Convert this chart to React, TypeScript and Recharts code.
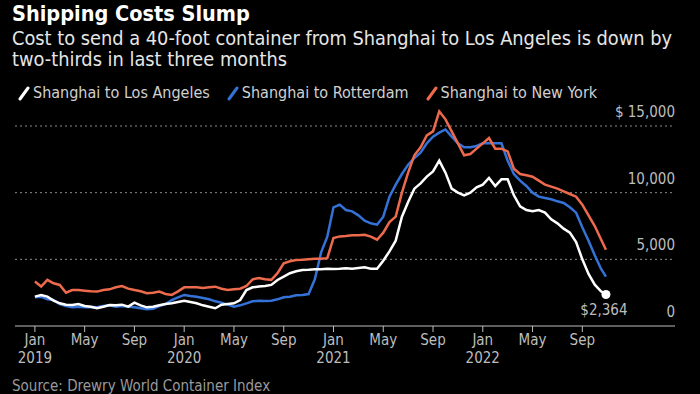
import React from 'react';
import { LineChart, Line, XAxis, YAxis, CartesianGrid } from 'recharts';

// month offsets from Jan 2019 (semi-monthly samples of the weekly index)
const months = [
  0, 0.5, 1, 1.5, 2, 2.5, 3, 3.5, 4, 4.5, 5, 5.5,
  6, 6.5, 7, 7.5, 8, 8.5, 9, 9.5, 10, 10.5, 11, 11.5,
  12, 12.5, 13, 13.5, 14, 14.5, 15, 15.5, 16, 16.5, 17, 17.5,
  18, 18.5, 19, 19.5, 20, 20.5, 21, 21.5, 22, 22.5, 23, 23.5,
  24, 24.5, 25, 25.5, 26, 26.5, 27, 27.5, 28, 28.5, 29, 29.5,
  30, 30.5, 31, 31.5, 32, 32.5, 33, 33.5, 34, 34.5, 35, 35.5,
  36, 36.5, 37, 37.5, 38, 38.5, 39, 39.5, 40, 40.5, 41, 41.5,
  42, 42.5, 43, 43.5, 44, 44.5, 45, 45.5, 45.9,
];

const losAngeles = [
  2200, 2330, 2200, 1900, 1700, 1600, 1580, 1650, 1500, 1450, 1330, 1450,
  1580, 1550, 1600, 1450, 1750, 1550, 1400, 1450, 1550, 1650, 1700, 1800,
  1900, 1800, 1700, 1550, 1450, 1330, 1600, 1650, 1700, 1950, 2700, 2900,
  2960, 3000, 3080, 3450, 3700, 3960, 4100, 4200, 4210, 4250, 4250, 4300,
  4280, 4300, 4340, 4300, 4350, 4400, 4300, 4300, 4900, 5600, 6400, 8200,
  9300, 10300, 10700, 11200, 11600, 12400, 11500, 10300, 10000, 9800, 10000, 10400,
  10600, 11100, 10500, 11000, 11000, 9800, 8970, 8700, 8600, 8700, 8500, 8000,
  7700, 7300, 7000, 6300, 5000, 3900, 3100, 2600, 2364,
];

const rotterdam = [
  2150, 2200, 2000, 1950, 1650, 1500, 1400, 1450, 1400, 1420, 1400, 1500,
  1550, 1450, 1500, 1450, 1400, 1330, 1250, 1300, 1500, 1650, 1950, 2150,
  2330, 2250, 2200, 2100, 2000, 1850, 1750, 1600, 1450, 1550, 1700, 1850,
  1900, 1880, 1900, 2000, 2150, 2200, 2300, 2330, 2400, 3500, 5500, 6700,
  8900, 9100, 8700, 8600, 8300, 7900, 7700, 7600, 8200, 9700, 10600, 11400,
  12100, 12600, 13000, 13700, 14200, 14500, 14740, 14200, 13700, 13400, 13400, 13500,
  13700, 13700, 13700, 13700, 12400, 11400, 10900, 10500, 10000, 9700, 9600, 9500,
  9350, 9230, 8900, 8500, 7400, 6400, 5300, 4300, 3700,
];

const newYork = [
  3330, 2960, 3460, 3200, 3080, 2500, 2700, 2700, 2650, 2600, 2580, 2700,
  2750, 2900, 3000, 2800, 2700, 2600, 2460, 2500, 2580, 2400, 2330, 2600,
  2900, 2910, 2900, 2850, 2900, 2950, 2800, 2700, 2750, 2800, 3000, 3500,
  3600, 3500, 3460, 3960, 4700, 4850, 4950, 4960, 5000, 5050, 5050, 5090,
  6600, 6720, 6750, 6800, 6800, 6840, 6700, 6470, 7000, 7800, 8200, 10000,
  11500, 12800, 13400, 14300, 14600, 16100, 15500, 14600, 13700, 12800, 12900, 13300,
  13700, 14100, 13300, 13300, 13100, 11800, 11400, 11300, 11200, 10900, 10600, 10450,
  10300, 10100, 9900, 9700, 9100, 8300, 7500, 6500, 5715,
];

const xTicks = [0, 4, 8, 12, 16, 20, 24, 28, 32, 36, 40, 44];
const monthNames = ['Jan', 'May', 'Sep'];
const yTicks = [0, 5000, 10000, 15000];

const series = [
  { key: 'rot', name: 'Shanghai to Rotterdam', color: '#3472d8' },
  { key: 'ny', name: 'Shanghai to New York', color: '#ee6a4c' },
  { key: 'la', name: 'Shanghai to Los Angeles', color: '#ffffff' },
];
const legendOrder = ['la', 'rot', 'ny'];

const data = months.map((t, i) => ({ t, la: losAngeles[i], rot: rotterdam[i], ny: newYork[i] }));

const FONT = "'Liberation Sans Narrow', 'DejaVu Sans Condensed', 'Liberation Sans', sans-serif";
const PLOT_RIGHT = 675;
const AXIS_GREY = '#bdbdbd';

const XTick = (props: any) => {
  const { x, y, payload } = props;
  const m = payload.value;
  const label = monthNames[(m / 4) % 3];
  const year = m % 12 === 0 ? String(2019 + m / 12) : null;
  return (
    <g>
      <text x={x} y={y + 11} textAnchor="middle" fill={AXIS_GREY} fontSize={15} fontFamily={FONT}>{label}</text>
      {year && (
        <text x={x} y={y + 29} textAnchor="middle" fill={AXIS_GREY} fontSize={15} fontFamily={FONT}>{year}</text>
      )}
    </g>
  );
};

const YTick = (props: any) => {
  const { y, payload } = props;
  const v = payload.value;
  const txt = v === 15000 ? '$ 15,000' : v.toLocaleString('en-US');
  return (
    <text x={PLOT_RIGHT} y={y - 9} textAnchor="end" fill={AXIS_GREY} fontSize={15} fontFamily={FONT}>{txt}</text>
  );
};

const EndDot = (props: any) => {
  const { cx, cy, index, value } = props;
  if (index !== data.length - 1) return <g key={index} />;
  return (
    <g key={index}>
      <circle cx={cx} cy={cy} r={4.5} fill="#ffffff" />
      <text x={cx - 2} y={cy + 21} textAnchor="middle" fill={AXIS_GREY} fontSize={15} fontFamily={FONT}>
        ${Number(value).toLocaleString('en-US')}
      </text>
    </g>
  );
};

const LegendIcon = ({ color }: { color: string }) => (
  <svg width={12} height={16} style={{ verticalAlign: 'middle', marginRight: 3 }}>
    <line x1={2} y1={14} x2={10} y2={3} stroke={color} strokeWidth={3} strokeLinecap="round" />
  </svg>
);

export default function App() {
  return (
    <div style={{ position: 'absolute', left: 0, top: 0, width: 700, height: 394, background: '#000', overflow: 'hidden', fontFamily: FONT }}>
      <div style={{ position: 'absolute', left: 12, top: 1, color: '#fff', fontSize: 21.5, fontWeight: 'bold' }}>
        Shipping Costs Slump
      </div>
      <div style={{ position: 'absolute', left: 12, top: 28, color: '#e6e6e6', fontSize: 19.8, lineHeight: '21px', width: 695, whiteSpace: 'nowrap' }}>
        Cost to send a 40-foot container from Shanghai to Los Angeles is down by<br />two-thirds in last three months
      </div>
      <div style={{ position: 'absolute', left: 18, top: 83, color: '#d0d0d0', fontSize: 16, display: 'flex', gap: 17 }}>
        {legendOrder.map((k) => {
          const s = series.find((x) => x.key === k)!;
          return (
            <span key={k} style={{ display: 'flex', alignItems: 'center' }}>
              <LegendIcon color={s.color} />
              {s.name}
            </span>
          );
        })}
      </div>
      <div style={{ position: 'absolute', left: 0, top: 0 }}>
        <LineChart width={700} height={394} data={data} margin={{ top: 106, right: 700 - PLOT_RIGHT - 1, bottom: 28, left: 15 }}>
          <CartesianGrid vertical={false} stroke="#8a8a8a" strokeDasharray="2 3" horizontalValues={[5000, 10000, 15000]} />
          <XAxis
            dataKey="t"
            type="number"
            domain={[-1.6, 51.45]}
            ticks={xTicks}
            interval={0}
            height={40}
            stroke={AXIS_GREY}
            tickSize={6}
            tick={(p: any) => <XTick {...p} />}
          />
          <YAxis
            orientation="right"
            width={1}
            domain={[0, 16500]}
            ticks={yTicks}
            interval={0}
            axisLine={false}
            tickLine={false}
            tick={(p: any) => <YTick {...p} />}
            allowDataOverflow
          />
          {series.map((s) => (
            <Line
              key={s.key}
              dataKey={s.key}
              name={s.name}
              stroke={s.color}
              strokeWidth={2.5}
              type="linear"
              dot={s.key === 'la' ? (p: any) => <EndDot key={p.index} {...p} /> : false}
              activeDot={false}
              isAnimationActive={false}
            />
          ))}
        </LineChart>
      </div>
      <div style={{ position: 'absolute', left: 12, top: 377, color: '#9a9a9a', fontSize: 15 }}>
        Source: Drewry World Container Index
      </div>
    </div>
  );
}
